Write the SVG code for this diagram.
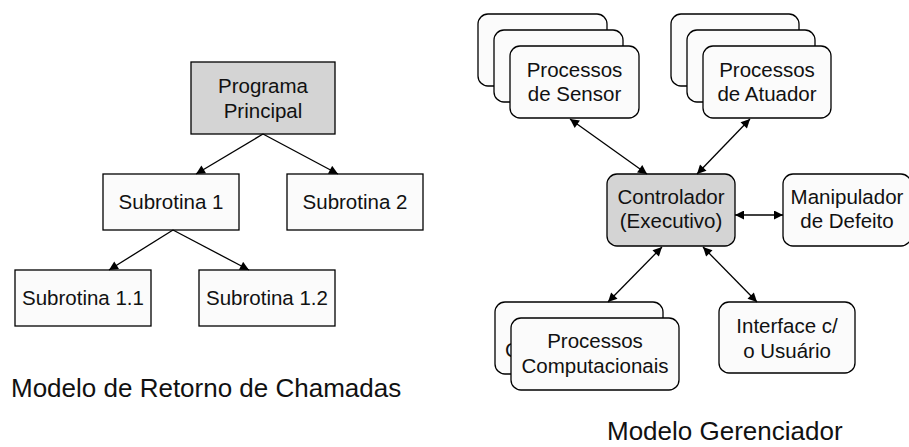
<svg xmlns="http://www.w3.org/2000/svg" width="909" height="447" viewBox="0 0 909 447">
<defs>
<style>
.box{fill:#fbfbfb;stroke:#000;stroke-width:1.3}
.gray{fill:#d4d4d4;stroke:#000;stroke-width:1.3}
.t{font-family:"Liberation Sans",Arial,sans-serif;font-size:20.5px;fill:#111;text-anchor:middle}
.cap{font-family:"Liberation Sans",Arial,sans-serif;font-size:26px;fill:#111}
.ln{stroke:#000;stroke-width:1.3;fill:none}
</style>
<marker id="ah" viewBox="0 0 10 10" refX="10" refY="5" markerWidth="10" markerHeight="9" markerUnits="userSpaceOnUse" orient="auto-start-reverse">
<path d="M0,0 L10,5 L0,10 z" fill="#000"/>
</marker>
</defs>
<rect width="909" height="447" fill="#fff"/>

<g id="programa-principal">
<rect class="gray" x="191" y="62" width="144" height="72"/>
<text class="t" x="263" y="93">Programa</text>
<text class="t" x="263" y="118">Principal</text>
</g>
<g id="subrotina-1">
<rect class="box" x="103" y="174" width="136" height="56"/>
<text class="t" x="171" y="209">Subrotina 1</text>
</g>
<g id="subrotina-2">
<rect class="box" x="287" y="174" width="136" height="56"/>
<text class="t" x="355" y="209">Subrotina 2</text>
</g>
<g id="subrotina-1-1">
<rect class="box" x="15" y="270" width="136" height="56"/>
<text class="t" x="83" y="305">Subrotina 1.1</text>
</g>
<g id="subrotina-1-2">
<rect class="box" x="199" y="270" width="136" height="56"/>
<text class="t" x="267" y="305">Subrotina 1.2</text>
</g>

<g id="processos-sensor">
<rect class="box" x="478" y="14" width="129" height="72" rx="10"/>
<rect class="box" x="494" y="30" width="129" height="72" rx="10"/>
<rect class="box" x="510" y="46" width="129" height="72" rx="10"/>
<text class="t" x="574.5" y="77">Processos</text>
<text class="t" x="574.5" y="101">de Sensor</text>
</g>
<g id="processos-atuador">
<rect class="box" x="671" y="14" width="128" height="72" rx="10"/>
<rect class="box" x="687" y="30" width="128" height="72" rx="10"/>
<rect class="box" x="703" y="46" width="128" height="72" rx="10"/>
<text class="t" x="767" y="77">Processos</text>
<text class="t" x="767" y="101">de Atuador</text>
</g>
<g id="controlador">
<rect class="gray" x="607" y="174" width="128" height="72" rx="10"/>
<text class="t" x="671" y="204">Controlador</text>
<text class="t" x="671" y="228">(Executivo)</text>
</g>
<g id="manipulador">
<rect class="box" x="783" y="174" width="128" height="72" rx="10"/>
<text class="t" x="847" y="204">Manipulador</text>
<text class="t" x="847" y="228">de Defeito</text>
</g>
<g id="processos-computacionais">
<rect class="box" x="495" y="302" width="168" height="72" rx="10"/>
<text class="t" x="505" y="357" style="text-anchor:start">C</text>
<rect class="box" x="511" y="318" width="168" height="72" rx="10"/>
<text class="t" x="595" y="348">Processos</text>
<text class="t" x="595" y="373">Computacionais</text>
</g>
<g id="interface">
<rect class="box" x="719" y="302" width="136" height="71" rx="10"/>
<text class="t" x="787" y="333">Interface c/</text>
<text class="t" x="787" y="358">o Usuário</text>
</g>

<g id="connectors">
<line class="ln" x1="263" y1="134" x2="196" y2="174" marker-end="url(#ah)"/>
<line class="ln" x1="263" y1="134" x2="338" y2="174" marker-end="url(#ah)"/>
<line class="ln" x1="173" y1="230" x2="109" y2="270" marker-end="url(#ah)"/>
<line class="ln" x1="173" y1="230" x2="249" y2="270" marker-end="url(#ah)"/>
<line class="ln" x1="570" y1="119" x2="647" y2="174" marker-start="url(#ah)" marker-end="url(#ah)"/>
<line class="ln" x1="750" y1="119" x2="697" y2="174" marker-start="url(#ah)" marker-end="url(#ah)"/>
<line class="ln" x1="735" y1="215" x2="783" y2="215" marker-start="url(#ah)" marker-end="url(#ah)"/>
<line class="ln" x1="662" y1="247" x2="608" y2="302" marker-start="url(#ah)" marker-end="url(#ah)"/>
<line class="ln" x1="703" y1="247" x2="757" y2="302" marker-start="url(#ah)" marker-end="url(#ah)"/>
</g>

<g id="captions">
<text class="cap" x="11" y="397">Modelo de Retorno de Chamadas</text>
<text class="cap" x="607" y="440">Modelo Gerenciador</text>
</g>
</svg>
